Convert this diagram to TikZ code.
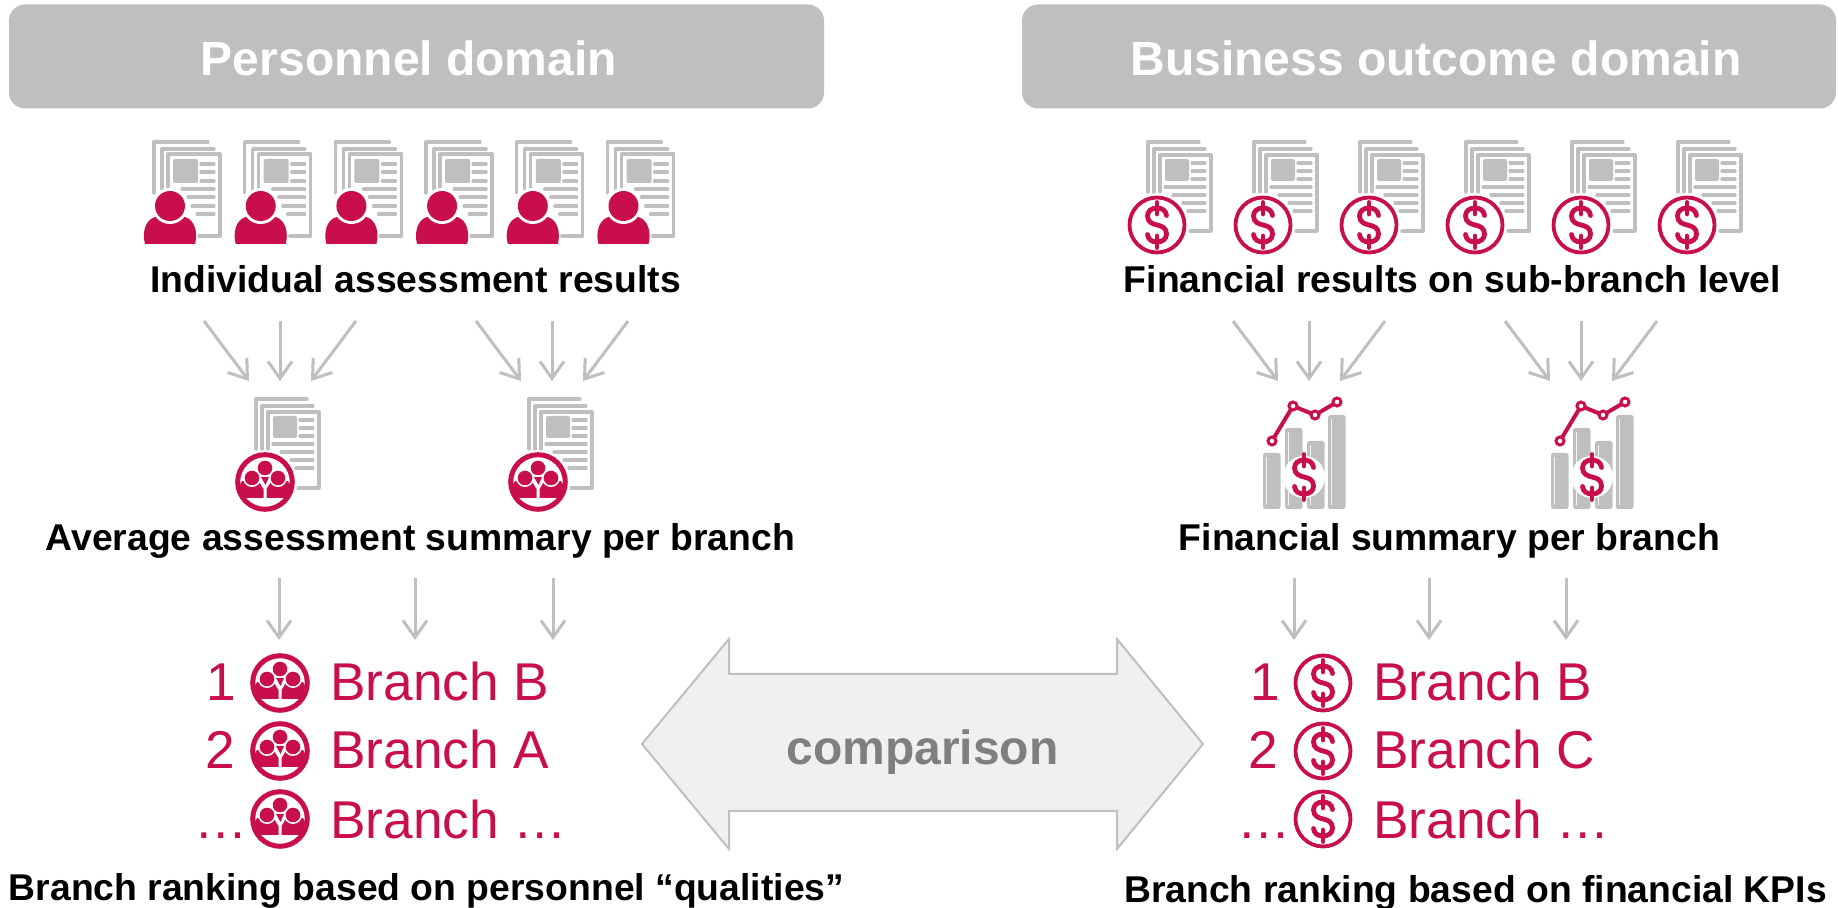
\documentclass[tikz,border=0pt]{standalone}
\usepackage{fontspec}
\setmainfont{Liberation Sans}
\usetikzlibrary{arrows.meta}
\definecolor{brandred}{HTML}{C90F4B}
\definecolor{lightgray}{HTML}{BFBFBF}
\definecolor{armfill}{HTML}{F0F0F0}
\definecolor{midgray}{HTML}{7F7F7F}
\tikzset{
  header/.style={fill=lightgray,draw=none,rounded corners=8pt},
  headertext/.style={anchor=base,inner sep=0pt,text=white,font=\fontsize{24pt}{26pt}\selectfont\bfseries},
  caption/.style={anchor=base,inner sep=0pt,text=black,font=\fontsize{18.65pt}{22pt}\selectfont\bfseries},
  ranktext/.style={anchor=base west,inner sep=0pt,text=brandred,font=\fontsize{26.6pt}{30pt}\selectfont},
  ranknum/.style={anchor=base,inner sep=0pt,text=brandred,font=\fontsize{26.6pt}{30pt}\selectfont},
  flowarrow/.style={draw=lightgray,line width=1.5pt,-{Straight Barb[length=8.5pt,width=12pt,line width=1.5pt]}},
  pageline/.style={draw=lightgray,line width=1.65pt,line cap=round,line join=round},
  pics/docA/.style={code={
    \draw[pageline] (0,51) -- (0,0) -- (54,0);
    \draw[pageline] (8,47) -- (8,7) -- (60,7);
    \draw[pageline] (14,46) -- (14,12) -- (66,12) -- (66,94) -- (45,94);
    \fill[lightgray,rounded corners=1pt] (19,17) rectangle (44,41);
    \foreach \ya/\xa in {22/47,30/47,39/47,47/28,55/34,64/38,72/43}{\draw[pageline] (\xa,\ya) -- (60,\ya);}
  }},
  pics/docB/.style={code={
    \draw[pageline] (0,50) -- (0,0) -- (51,0);
    \draw[pageline] (6,50) -- (6,7) -- (57,7);
    \draw[pageline] (12,50) -- (12,13) -- (63,13) -- (63,89) -- (42,89);
    \fill[lightgray,rounded corners=1pt] (17,17) rectangle (41,39);
    \foreach \ya/\xa in {21/44,29/44,37/44,45/17,53/25,61/35,69/40}{\draw[pageline] (\xa,\ya) -- (57,\ya);}
  }},
  pics/person/.style={code={
    \fill[brandred] (-25,38) .. controls (-28,27) and (-25,14) .. (-15,11) -- (15,11) .. controls (25,14) and (28,27) .. (25,38) -- cycle;
    \fill[white] (0,0) circle[radius=18];
    \fill[brandred] (0,0) circle[radius=15];
  }},
  pics/crowd/.style={code={
    \fill[white] (0,0) circle[radius=31];
    \draw[brandred,line width=2.5pt] (0,0) circle[radius=27.3];
    \begin{scope}
      \clip (0,0) circle[radius=27];
      \fill[brandred] (-27,16) -- (-27,6) -- (-23,-1) -- (-6,0) -- (-1.5,7) -- (-1.5,16) -- cycle;
      \fill[brandred] (27,16) -- (27,6) -- (23,-1) -- (6,0) -- (1.5,7) -- (1.5,16) -- cycle;
    \end{scope}
    \fill[white] (-13,-4) circle[radius=9] (13,-4) circle[radius=9];
    \fill[brandred] (-13,-4) circle[radius=7.3] (13,-4) circle[radius=7.3];
    \fill[brandred] (-4,-5) -- (4,-5) -- (0.5,3) -- cycle;
    \fill[white] (0,-14) circle[radius=8.8];
    \fill[brandred] (0,-14) circle[radius=7.3];
  }},
  pics/dollarsign/.style={code={
    \draw[brandred,line width=2.4pt,line cap=round] (0,-22.5) -- (0,-11);
    \draw[brandred,line width=2.4pt,line cap=round] (0,11) -- (0,22.5);
    \draw[brandred,line width=2.4pt,line cap=round] (9.5,-9.5) .. controls (9,-14.5) and (5,-17) .. (0,-17) .. controls (-5.5,-17) and (-9.5,-14) .. (-9.5,-9) .. controls (-9.5,-3) and (-4.5,-1) .. (0,0) .. controls (5,1) and (9.5,3) .. (9.5,9) .. controls (9.5,14) and (5.5,17) .. (0,17) .. controls (-5,17) and (-9,14.5) .. (-9.5,9.5);
  }},
  pics/dollarcoin/.style={code={
    \fill[white] (0,0) circle[radius=30];
    \draw[brandred,line width=1.9pt] (0,0) circle[radius=27.5];
    \pic at (0,0) {dollarsign};
  }},
  pics/chartbars/.style={code={
    \foreach \xa/\ya in {-41/-24,-19/-49,3/-36,24/-62}{
      \fill[lightgray,rounded corners=1.2pt] (\xa,\ya) rectangle ++(17.5,\ifdim\ya pt<0pt 32-\ya\else 32\fi);
      \draw[white!85!lightgray,line width=0.4pt] (\xa+3,\ya+4) -- (\xa+3,28);
    }
    \fill[white] (0,0) circle[radius=21];
    \pic at (0,0) {dollarsign};
    \draw[brandred,line width=2pt,line cap=round,line join=round] (-32,-36) -- (-11,-71) -- (11,-62) -- (33,-75);
    \foreach \xa/\ya in {-32/-36,-11/-71,11/-62,33/-75}{
      \draw[brandred,line width=1.5pt,fill=white] (\xa,\ya) circle[radius=4];
    }
  }}
}
\begin{document}
\begin{tikzpicture}[x=0.5pt,y=-0.5pt]
\useasboundingbox[fill=white] (0,0) rectangle (1838,908);

% headers
\fill[header] (9,4.5) rectangle (824,108.5);
\fill[header] (1022,4.5) rectangle (1836,108.5);
\node[headertext] (hleft) at (409,76) {Personnel domain};
\node[headertext] (hright) at (1436,76) {Business outcome domain};

% icon rows
\foreach \i in {0,...,5}{
  \pic at (154+90.7*\i,142) {docA};
  \pic at (170+90.7*\i,206) {person};
  \pic at (1148+106*\i,142) {docB};
  \pic at (1157+106*\i,225) {dollarcoin};
}
\foreach \xa in {256,529}{
  \pic at (\xa,399) {docB};
  \pic at (\xa+9,482) {crowd};
}
\foreach \xa in {1304,1592}{
  \pic at (\xa,477) {chartbars};
}

% captions
\node[caption] (c1) at (415.5,293) {Individual assessment results};
\node[caption] (c2) at (1452.5,293) {Financial results on sub-branch level};
\node[caption] (c3) at (420.5,551) {Average assessment summary per branch};
\node[caption] (c4) at (1449.5,551) {Financial summary per branch};
\node[caption] (c5) at (426.5,900) {Branch ranking based on personnel “qualities”};
\node[caption] (c6) at (1475.5,902) {Branch ranking based on financial KPIs};

% converging arrows
\foreach \c/\n in {280/a,552/b,1309/c,1581/d}{
  \coordinate (\n1s) at (\c-76,321); \coordinate (\n1e) at (\c-31,381);
  \coordinate (\n2s) at (\c,321);    \coordinate (\n2e) at (\c,381);
  \coordinate (\n3s) at (\c+76,321); \coordinate (\n3e) at (\c+31,381);
  \draw[flowarrow] (\n1s) -- (\n1e);
  \draw[flowarrow] (\n2s) -- (\n2e);
  \draw[flowarrow] (\n3s) -- (\n3e);
}
% parallel arrows
\foreach \xa/\n in {279/e,415/f,553/g,1294/h,1429/i,1566/j}{
  \coordinate (\n s) at (\xa,578); \coordinate (\n e) at (\xa,640);
  \draw[flowarrow] (\n s) -- (\n e);
}

% rankings
\node[ranknum] (ln1) at (221,701) {1};
\node[ranknum] (ln2) at (220,769) {2};
\node[ranknum] (ln3) at (221,839) {…};
\node[ranktext] (lb1) at (330,701) {Branch B};
\node[ranktext] (lb2) at (330,769) {Branch A};
\node[ranktext] (lb3) at (330,839) {Branch …};
\pic at (280,683) {crowd};
\pic at (280,751) {crowd};
\pic at (280,819) {crowd};

\node[ranknum] (rn1) at (1265,701) {1};
\node[ranknum] (rn2) at (1263,769) {2};
\node[ranknum] (rn3) at (1264,839) {…};
\node[ranktext] (rb1) at (1373,701) {Branch B};
\node[ranktext] (rb2) at (1373,769) {Branch C};
\node[ranktext] (rb3) at (1373,839) {Branch …};
\pic at (1323,683) {dollarcoin};
\pic at (1323,751) {dollarcoin};
\pic at (1323,819) {dollarcoin};

% comparison arrow
\draw[fill=armfill,draw=lightgray,line width=1pt,line join=miter]
  (642,744) -- (729,639) -- (729,674) -- (1117,674) -- (1117,639) -- (1203,744) -- (1117,849) -- (1117,811) -- (729,811) -- (729,849) -- cycle;
\node[anchor=base,inner sep=0pt,text=midgray,font=\fontsize{24pt}{26pt}\selectfont\bfseries] (cmp) at (922.5,765) {comparison};
\end{tikzpicture}
\end{document}
